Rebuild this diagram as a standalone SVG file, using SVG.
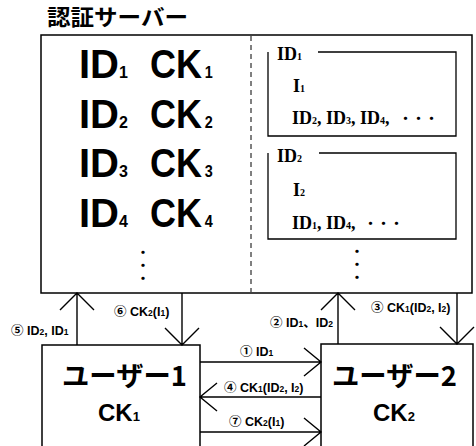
<svg xmlns="http://www.w3.org/2000/svg" width="476" height="446" viewBox="0 0 476 446">
  <defs>
    <style>
      .box { fill: #fff; stroke: #000; stroke-width: 1.5; }
      .frame { fill: none; stroke: #000; stroke-width: 1.3; }
      .line { fill: none; stroke: #000; stroke-width: 1.4; }
      .dash { fill: none; stroke: #000; stroke-width: 1; stroke-dasharray: 5 4; }
      .title { font-family: "Noto Sans CJK JP", sans-serif; font-weight: bold; font-size: 22px; }
      .big { font-family: "Liberation Sans", "Noto Sans CJK JP", sans-serif; font-weight: bold; font-size: 40px; }
      .bigsub { font-size: 16px; }
      .rec { font-family: "Liberation Serif", "Noto Sans CJK JP", serif; font-weight: bold; font-size: 18px; }
      .recsub { font-size: 10px; }
      .user { font-family: "Noto Sans CJK JP", sans-serif; font-weight: bold; font-size: 27px; }
      .ck { font-family: "Liberation Sans", sans-serif; font-weight: bold; font-size: 24px; }
      .cksub { font-size: 13px; }
      .lbl { font-family: "Liberation Sans", "Noto Sans CJK JP", sans-serif; font-weight: bold; font-size: 12.5px; }
      .lblsub { font-size: 8.5px; }
      .dots { font-family: "Noto Sans CJK JP", sans-serif; font-weight: bold; font-size: 13px; }
      .vdots { font-family: "Noto Sans CJK JP", sans-serif; font-weight: bold; font-size: 13px; writing-mode: vertical-rl; }
    </style>
  </defs>

  <rect width="476" height="446" fill="#fff"/>

  <!-- authentication server -->
  <g id="server">
    <text class="title" x="47" y="25" textLength="141" lengthAdjust="spacingAndGlyphs">認証サーバー</text>
    <rect class="box" x="41" y="35" width="431" height="258"/>
    <line class="dash" x1="251" y1="36" x2="251" y2="292"/>

    <!-- ID / CK table -->
    <g id="key-table">
      <text class="big" x="79" y="78">ID<tspan class="bigsub">1</tspan></text>
      <text class="big" transform="translate(150 78) scale(0.9 1)">CK<tspan class="bigsub" dx="3">1</tspan></text>

      <text class="big" x="79" y="128">ID<tspan class="bigsub">2</tspan></text>
      <text class="big" transform="translate(150 128) scale(0.9 1)">CK<tspan class="bigsub" dx="3">2</tspan></text>

      <text class="big" x="79" y="177">ID<tspan class="bigsub">3</tspan></text>
      <text class="big" transform="translate(150 177) scale(0.9 1)">CK<tspan class="bigsub" dx="3">3</tspan></text>

      <text class="big" x="79" y="227">ID<tspan class="bigsub">4</tspan></text>
      <text class="big" transform="translate(150 227) scale(0.9 1)">CK<tspan class="bigsub" dx="3">4</tspan></text>

      <text class="vdots" x="143" y="246">・・・</text>
    </g>

    <!-- per-user records -->
    <g id="record-1">
      <path class="frame" d="M318 52 H456 V136 H268 V52"/>
      <text class="rec" x="277" y="60">ID<tspan class="recsub">1</tspan></text>
      <text class="rec" x="293" y="92">I<tspan class="recsub">1</tspan></text>
      <text class="rec" x="292" y="124">ID<tspan class="recsub">2</tspan>, ID<tspan class="recsub">3</tspan>, ID<tspan class="recsub">4</tspan>,</text>
      <text class="dots" x="399" y="123">・・・</text>
    </g>
    <g id="record-2">
      <path class="frame" d="M319 153 H456 V239 H268 V153"/>
      <text class="rec" x="277" y="162">ID<tspan class="recsub">2</tspan></text>
      <text class="rec" x="293" y="196">I<tspan class="recsub">2</tspan></text>
      <text class="rec" x="292" y="229">ID<tspan class="recsub">1</tspan>, ID<tspan class="recsub">4</tspan>,</text>
      <text class="dots" x="364" y="228">・・・</text>
    </g>
    <text class="vdots" x="357" y="245">・・・</text>
  </g>

  <!-- user 1 -->
  <g id="user1">
    <rect class="box" x="42" y="345" width="158" height="110"/>
    <text class="user" x="62" y="386" textLength="125" lengthAdjust="spacingAndGlyphs">ユーザー1</text>
    <text class="ck" x="98" y="421">CK<tspan class="cksub">1</tspan></text>
  </g>

  <!-- user 2 -->
  <g id="user2">
    <rect class="box" x="321" y="344" width="152" height="111"/>
    <text class="user" x="332" y="386" textLength="125" lengthAdjust="spacingAndGlyphs">ユーザー2</text>
    <text class="ck" x="373" y="421">CK<tspan class="cksub">2</tspan></text>
  </g>

  <!-- message flows -->
  <g id="connectors">
    <!-- ⑤ user1 -> server -->
    <path class="line" d="M77 345 V293 M60 310 L77 293 L94 310"/>
    <!-- ⑥ server -> user1 -->
    <path class="line" d="M182 293 V345 M165 328 L182 345 L199 328"/>
    <!-- ② user2 -> server -->
    <path class="line" d="M338 344 V293 M321 310 L338 293 L355 310"/>
    <!-- ③ server -> user2 -->
    <path class="line" d="M457 293 V344 M440 327 L457 344 L474 327"/>
    <!-- ① user1 -> user2 -->
    <path class="line" d="M200 362 H321 M304 348 L321 362 L304 376"/>
    <!-- ④ user2 -> user1 -->
    <path class="line" d="M321 397 H200 M217 383 L200 397 L217 411"/>
    <!-- ⑦ user1 -> user2 -->
    <path class="line" d="M200 432 H321 M304 418 L321 432 L304 446"/>

    <text class="lbl" x="11" y="335">⑤ ID<tspan class="lblsub">2</tspan>, ID<tspan class="lblsub">1</tspan></text>
    <text class="lbl" x="114" y="316">⑥ CK<tspan class="lblsub">2</tspan>(I<tspan class="lblsub">1</tspan>)</text>
    <text class="lbl" x="270" y="327">② ID<tspan class="lblsub">1</tspan>、ID<tspan class="lblsub">2</tspan></text>
    <text class="lbl" x="371" y="312">③ CK<tspan class="lblsub">1</tspan>(ID<tspan class="lblsub">2</tspan>, I<tspan class="lblsub">2</tspan>)</text>
    <text class="lbl" x="240" y="356">① ID<tspan class="lblsub">1</tspan></text>
    <text class="lbl" x="224" y="392">④ CK<tspan class="lblsub">1</tspan>(ID<tspan class="lblsub">2</tspan>, I<tspan class="lblsub">2</tspan>)</text>
    <text class="lbl" x="229" y="426">⑦ CK<tspan class="lblsub">2</tspan>(I<tspan class="lblsub">1</tspan>)</text>
  </g>
</svg>
